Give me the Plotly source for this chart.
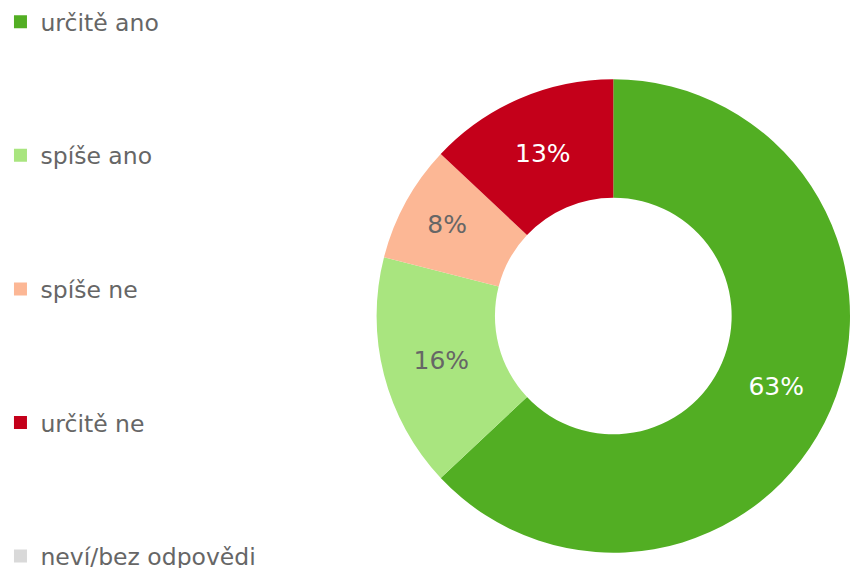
import plotly.graph_objects as go

categories = ["určitě ano", "spíše ano", "spíše ne", "určitě ne", "neví/bez odpovědi"]
values = [63, 16, 8, 13, 0]
colors = ["#52AE23", "#A9E57F", "#FCB795", "#C4001A", "#D9D9D9"]
text_colors = ["#FFFFFF", "#666666", "#666666", "#FFFFFF", "#666666"]

FONT = "DejaVu Sans, Verdana, sans-serif"

fig = go.Figure()

fig.add_trace(go.Pie(
    labels=categories,
    values=values,
    marker=dict(colors=colors, line=dict(width=0)),
    hole=0.5,
    sort=False,
    direction="clockwise",
    rotation=0,
    texttemplate="%{value}%",
    textposition="inside",
    insidetextorientation="horizontal",
    textfont=dict(family=FONT, size=25, color=text_colors),
    showlegend=False,
    hoverinfo="label+value",
    domain=dict(x=[364 / 850, 1.0], y=[4 / 568, 500 / 568]),
))

for i, (cat, col) in enumerate(zip(categories, colors)):
    fig.add_trace(go.Scatter(
        x=[None], y=[None],
        mode="markers",
        marker=dict(symbol="square", size=13, color=col),
        name=cat,
        legendgroup=f"g{i}",
        showlegend=True,
    ))

fig.update_layout(
    width=850,
    height=568,
    margin=dict(l=0, r=0, t=0, b=0),
    paper_bgcolor="white",
    plot_bgcolor="white",
    xaxis=dict(visible=False),
    yaxis=dict(visible=False),
    legend=dict(
        x=-0.026, y=1.0, xanchor="left", yanchor="top",
        font=dict(family=FONT, size=23.5, color="#666666"),
        tracegroupgap=100,
        traceorder="grouped",
        bgcolor="rgba(0,0,0,0)",
        maxheight=640,
    ),
)

fig.write_html(
    "out.html",
    config={"displayModeBar": False},
    post_script="document.body.style.margin='0';document.body.style.overflow='hidden';",
)
